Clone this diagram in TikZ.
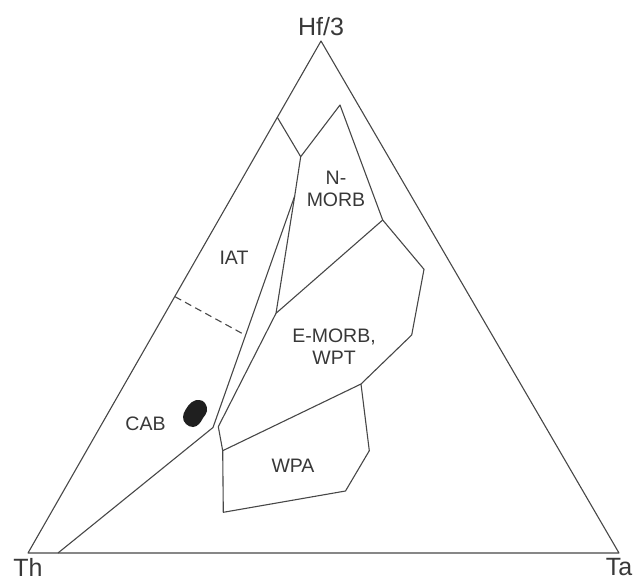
\documentclass[tikz,border=0pt]{standalone}
\usepackage{fontspec}
\setmainfont{Liberation Sans}
\usetikzlibrary{positioning}

\definecolor{linegray}{gray}{0.28}
\definecolor{textgray}{gray}{0.22}

\begin{document}
\begin{tikzpicture}[
        x = 1pt, y = -1pt, % pixel grid of the plot
        font = \fontsize{19.5}{22}\selectfont,
        boundary/.style = {draw = linegray, line width = 1.1pt, line join = round},
        fieldname/.style = {text = textgray, align = center, inner sep = 0pt},
        endmember/.style = {text = textgray, inner sep = 0pt, font = \fontsize{25}{30}\selectfont}
    ]

    \useasboundingbox (0,0) rectangle (637,582);

    % corners of the triangle
    \coordinate (th) at (28,553);
    \coordinate (ta) at (619,553);
    \coordinate (hf) at (321,41);

    % field boundaries
    \coordinate (iatTop)   at (277.3,117.3);
    \coordinate (split)    at (300.7,156.7);
    \coordinate (nmorbTop) at (340,105);
    \coordinate (nmorbEnd) at (382.7,220);
    \coordinate (fork)     at (294.7,196);
    \coordinate (emorbTop) at (276,313.3);
    \coordinate (cabFoot)  at (58,553);
    \coordinate (cabBend)  at (213,427.5);
    \coordinate (emorbBot) at (218.3,426.7);
    \coordinate (emorbR1)  at (424,269.3);
    \coordinate (emorbR2)  at (411.7,335);
    \coordinate (wpaTL)    at (222.7,450.7);
    \coordinate (wpaTR)    at (361,384);
    \coordinate (wpaR)     at (369.3,450.7);
    \coordinate (wpaBR)    at (345.5,491);
    \coordinate (wpaBL)    at (223.3,512.3);
    \coordinate (dashL)    at (175,296.7);
    \coordinate (dashR)    at (245,335);

    \draw[boundary] (th) -- (ta) -- (hf) -- cycle;

    \draw[boundary] (iatTop) -- (split) -- (nmorbTop) -- (nmorbEnd);
    \draw[boundary] (split) -- (fork) -- (emorbTop) -- (nmorbEnd);
    \draw[boundary] (cabFoot) -- (cabBend) -- (fork);
    \draw[boundary] (emorbTop) -- (emorbBot) -- (wpaTL);
    \draw[boundary] (nmorbEnd) -- (emorbR1) -- (emorbR2) -- (wpaTR);
    \draw[boundary] (wpaTL) -- (wpaTR) -- (wpaR) -- (wpaBR) -- (wpaBL) -- cycle;
    \draw[boundary, dash pattern = on 7pt off 4.5pt] (dashL) -- (dashR);

    % sample
    \fill[black!88] plot[smooth cycle, tension = 0.7] coordinates {
        (183,417) (186,424) (193,427) (199,424) (203,418)
        (207,411) (205,403) (199,400) (192,402) (186,409)};

    % labels
    \node[endmember, above = 5pt of hf] (hfLabel) {Hf/3};
    \node[endmember, below = 5pt of th] (thLabel) {Th};
    \node[endmember, below = 5pt of ta] (taLabel) {Ta};

    \node[fieldname] (nmorb) at (336,189) {N-\\MORB};
    \node[fieldname] (iat)   at (234,258) {IAT};
    \node[fieldname] (emorb) at (334,347) {E-MORB,\\WPT};
    \node[fieldname] (cab)   at (145.5,424) {CAB};
    \node[fieldname] (wpa)   at (293,466) {WPA};

\end{tikzpicture}
\end{document}
